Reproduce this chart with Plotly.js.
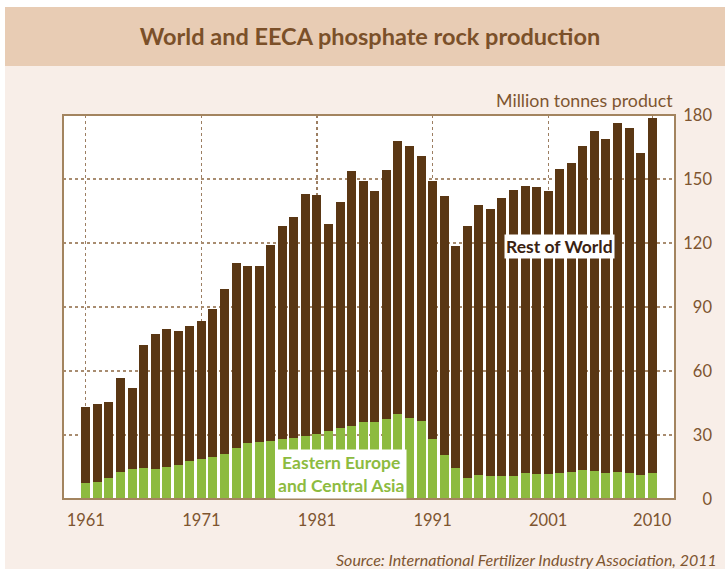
<!DOCTYPE html>
<html>
<head>
<meta charset="utf-8">
<script src="https://cdn.plot.ly/plotly-3.0.1.min.js"></script>
<style>
  html, body { margin: 0; padding: 0; background: #ffffff; }
  #chart { position: absolute; left: 5px; top: 7px; width: 720px; height: 562px; }
</style>
</head>
<body>
<div id="chart"></div>
<script>
var years = [1961,1962,1963,1964,1965,1966,1967,1968,1969,1970,
             1971,1972,1973,1974,1975,1976,1977,1978,1979,1980,
             1981,1982,1983,1984,1985,1986,1987,1988,1989,1990,
             1991,1992,1993,1994,1995,1996,1997,1998,1999,2000,
             2001,2002,2003,2004,2005,2006,2007,2008,2009,2010];

var eeca = [7.4,7.8,9.7,12.5,13.9,14.4,13.9,14.9,15.8,17.7,
            18.6,19.5,20.9,23.8,26.1,26.6,27.1,28.0,28.5,29.4,
            30.3,31.7,33.1,34.0,35.9,35.9,37.4,39.7,37.8,36.4,
            28.0,20.5,14.4,9.7,11.1,10.6,10.6,10.6,12.0,11.6,
            11.6,12.0,12.5,13.5,13.0,12.0,12.5,12.0,11.1,12.0];

var restOfWorld = [35.6,36.6,35.6,44.1,38.0,57.6,63.3,64.6,62.8,63.2,
                   64.7,69.4,77.4,86.7,83.0,82.5,91.8,99.8,103.5,113.4,
                   112.0,97.1,106.0,119.6,113.0,108.3,116.7,128.0,127.6,124.3,
                   120.9,121.3,104.0,118.1,126.6,125.2,130.4,134.1,134.6,134.5,
                   132.6,142.5,144.8,151.9,159.5,156.7,163.7,161.9,151.0,166.5];

var tickYears = [1961,1971,1981,1991,2001,2010];
var yTicks = [0,30,60,90,120,150,180];

var brown = '#5A3714';
var green = '#8DBB3F';
var textBrown = '#7E5530';
var fontFam = 'Lato, "Open Sans", sans-serif';

var traces = [
  { type: 'bar', x: years, y: eeca, name: 'Eastern Europe and Central Asia',
    marker: { color: green }, hoverinfo: 'skip' },
  { type: 'bar', x: years, y: restOfWorld, name: 'Rest of World',
    marker: { color: brown }, hoverinfo: 'skip' }
];

var W = 654, PW = 612; // margin-inset width and axis domain width
var layout = {
  width: 720, height: 562,
  margin: { l: 58, r: 8, t: 108, b: 70, pad: 0 },
  paper_bgcolor: '#F8EEE8',
  plot_bgcolor: '#FFFFFF',
  barmode: 'stack',
  bargap: 0.22,
  showlegend: false,
  font: { family: fontFam, color: textBrown },
  title: {
    text: '<b>World and EECA phosphate rock production</b>',
    font: { family: fontFam, size: 23.5, color: '#7B5029' },
    x: (370 - 5) / 720, xref: 'container', xanchor: 'center',
    y: 1 - 30 / 562, yref: 'container', yanchor: 'middle'
  },
  xaxis: {
    domain: [0, PW / W],
    range: [1959.03, 2011.97],
    tickmode: 'array', tickvals: tickYears, ticktext: tickYears.map(String),
    ticks: '', ticklabelstandoff: 9,
    tickfont: { family: fontFam, size: 16.5, color: textBrown },
    showgrid: true, gridcolor: '#9C7E62', griddash: 'dot', gridwidth: 1.3,
    zeroline: false, showline: false, fixedrange: true
  },
  yaxis: {
    range: [0, 180],
    tickmode: 'array', tickvals: yTicks,
    side: 'left', anchor: 'free', position: 1,
    ticks: '', ticklabelstandoff: 5,
    tickfont: { family: fontFam, size: 16.5, color: textBrown },
    showgrid: true, gridcolor: '#A88C70', griddash: 'dot', gridwidth: 1.3,
    zeroline: false, showline: false, fixedrange: true
  },
  shapes: [
    { type: 'rect', xref: 'paper', yref: 'paper', layer: 'below',
      x0: -58 / W, x1: 1 + 8 / W, y0: 1.1276, y1: 1.2813,
      fillcolor: '#E8CCB4', line: { width: 0 } },
    { type: 'rect', xref: 'paper', yref: 'paper', layer: 'above',
      x0: 0, x1: PW / W, y0: 0, y1: 1,
      fillcolor: 'rgba(0,0,0,0)', line: { color: '#A3845F', width: 2 } }
  ],
  annotations: [
    { xref: 'paper', yref: 'paper', x: (670 - 58) / W, y: (492 - 93) / 384,
      xanchor: 'right', yanchor: 'middle', showarrow: false,
      text: 'Million tonnes product',
      font: { family: fontFam, size: 17.8, color: textBrown } },
    { xref: 'x', yref: 'y', x: 2002.0, y: 118.5, xanchor: 'center', yanchor: 'middle',
      showarrow: false, text: '<b>Rest of World</b>',
      bgcolor: '#FFFFFF', borderpad: 1,
      font: { family: fontFam, size: 17.5, color: '#3A2211' } },
    { xref: 'x', yref: 'y', x: 1983.07, y: 0, xanchor: 'center', yanchor: 'bottom',
      showarrow: false, text: '<b>Eastern Europe<br>and Central Asia</b>',
      bgcolor: '#FFFFFF', borderpad: 2,
      font: { family: fontFam, size: 17.5, color: green } },
    { xref: 'paper', yref: 'paper', x: (714 - 58) / W, y: (492 - 552) / 384,
      xanchor: 'right', yanchor: 'middle', showarrow: false,
      text: '<i>Source: International Fertilizer Industry Association, 2011</i>',
      font: { family: fontFam, size: 16, color: textBrown } }
  ]
};

Plotly.newPlot('chart', traces, layout, { displayModeBar: false, staticPlot: true });
</script>
</body>
</html>
